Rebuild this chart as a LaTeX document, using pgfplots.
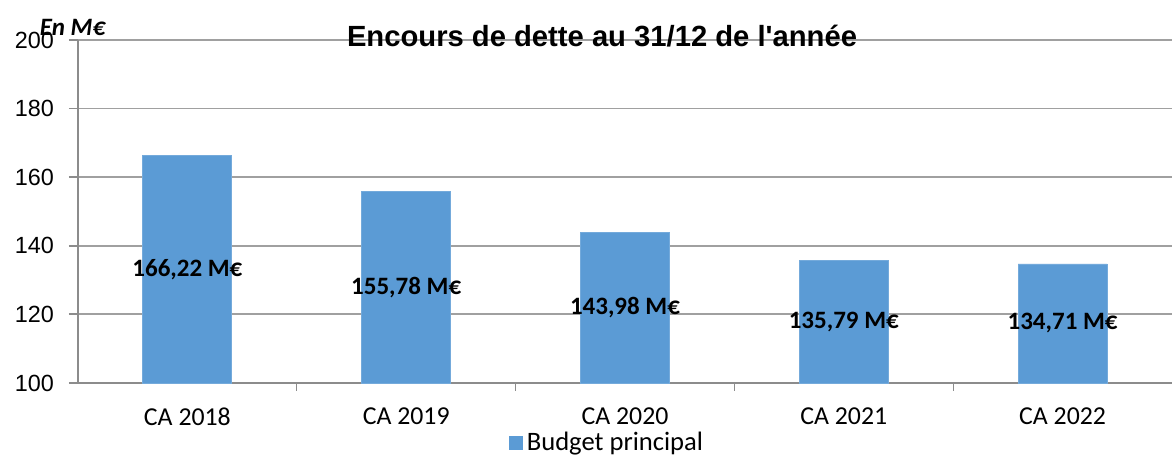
\documentclass[border=0pt]{standalone}
\usepackage{pgfplots}
\pgfplotsset{compat=1.18}
\usepackage{fontspec}
\setmainfont{Carlito}
\newfontfamily\arialfont{Liberation Sans}
\definecolor{barblue}{HTML}{5B9BD5}
\definecolor{gridgray}{HTML}{A0A0A0}
\definecolor{axgray}{HTML}{8C8C8C}
\begin{document}
\begin{tikzpicture}
\begin{axis}[
  scale only axis,
  width=547pt, height=171.5pt,
  xmin=-0.5, xmax=4.5,
  ymin=100, ymax=200,
  ytick={100,120,...,200},
  xtick={0,1,2,3,4},
  xticklabels={CA 2018,CA 2019,CA 2020,CA 2021,CA 2022},
  minor xtick={0.5,1.5,2.5,3.5},
  axis x line=bottom, axis y line=left,
  axis line style={axgray, line width=0.9pt, -},
  tick align=outside,
  major tick length=4.5pt,
  minor tick length=4pt,
  x tick style={draw=none},
  minor x tick style={draw=axgray, line width=0.7pt},
  y tick style={draw=axgray, line width=0.9pt},
  ymajorgrids,
  major grid style={gridgray, line width=0.9pt},
  yticklabel style={font=\arialfont\fontsize{11.7}{14}\selectfont, xshift=-4pt},
  xticklabel style={font=\fontsize{12.9}{15}\selectfont, yshift=-4.5pt},
  /pgf/number format/assume math mode=true,
  legend style={at={(0.4845,-0.175)}, anchor=center, draw=none, fill=none,
    font=\fontsize{13.3}{15}\selectfont, inner sep=0pt},
  legend image code/.code={\fill[barblue] (0pt,-3.25pt) rectangle (6.5pt,3.25pt);},
  clip=false,
]
\addplot[ybar, bar width=44.5pt, bar shift=0pt, fill=barblue, draw=barblue!85!white]
  coordinates {(0,166.22) (1,155.78) (2,143.98) (3,135.79) (4,134.71)};
\addlegendentry{Budget principal}
\addplot[only marks, mark=none, forget plot,
  nodes near coords, point meta=explicit symbolic,
  every node near coord/.append style={anchor=center, font=\bfseries\fontsize{12.5}{15}\selectfont, text=black}]
  coordinates {(0,133.11)[166,22 M€] (1,127.89)[155,78 M€] (2,121.99)[143,98 M€] (3,117.90)[135,79 M€] (4,117.36)[134,71 M€]};
\node[font=\arialfont\bfseries\fontsize{14.6}{17}\selectfont, anchor=center] at (rel axis cs:0.479,1) [yshift=2pt] {Encours de dette au 31/12 de l'année};
\node[font=\bfseries\itshape\fontsize{12.5}{15}\selectfont, anchor=center] at (rel axis cs:0,1) [xshift=-2.75pt, yshift=6.5pt] {En M€};
\end{axis}
\pgfresetboundingbox
\path (-39pt,-37.5pt) rectangle (547pt,191.5pt);
\end{tikzpicture}
\end{document}
